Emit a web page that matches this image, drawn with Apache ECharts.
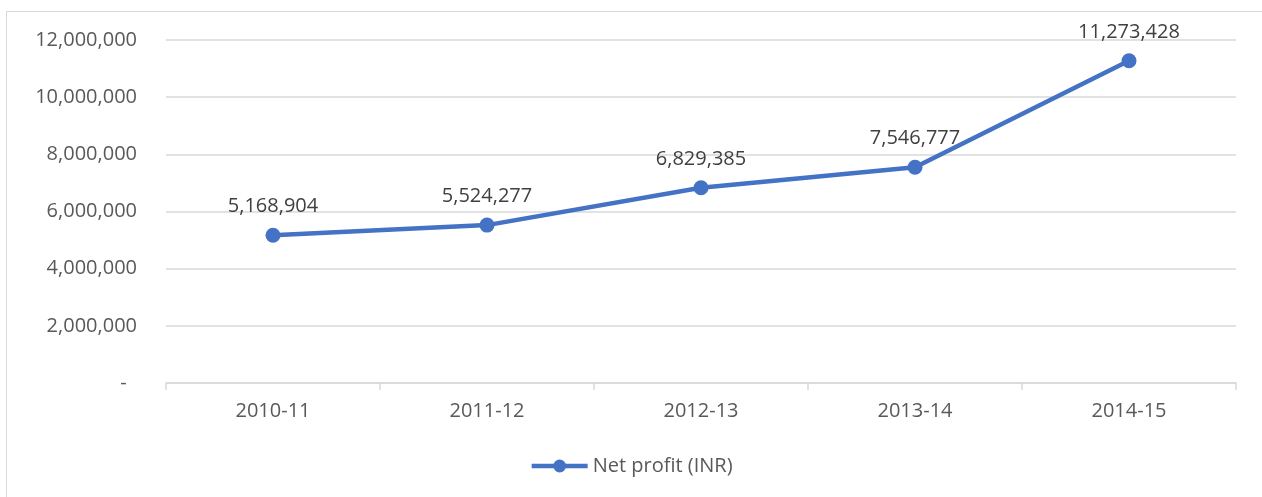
<!DOCTYPE html>
<html>
<head>
<meta charset="utf-8">
<script src="https://cdn.jsdelivr.net/npm/echarts@6/dist/echarts.min.js"></script>
<style>
	html, body { margin: 0; padding: 0; background: #fff; }
	#chart { width: 1262px; height: 497px; }
</style>
</head>
<body>
<div id="chart"></div>
<script>
// fiscal years and net profit values
var years = ['2010-11', '2011-12', '2012-13', '2013-14', '2014-15'];
var netProfit = [5168904, 5524277, 6829385, 7546777, 11273428];
var seriesName = 'Net profit (INR)';

var chartDom = document.getElementById('chart');
var myChart = echarts.init(chartDom);

function fmt(v) {
	if (v === 0) return '-  ';
	return v.toLocaleString('en-US');
}

var option = {
	animation: false,
	textStyle: { fontFamily: 'Open Sans' },
	graphic: [{
		type: 'rect',
		shape: { x: 6.5, y: 11.5, width: 1300, height: 600 },
		style: { fill: 'none', stroke: '#d9d9d9', lineWidth: 1 },
		silent: true
	}],
	grid: { left: 166, right: 26, top: 40, bottom: 114 },
	legend: {
		bottom: 16,
		left: 'center',
		itemWidth: 56,
		itemHeight: 16,
		itemGap: 5,
		lineStyle: { width: 4.5 },
		textStyle: { color: '#595959', fontSize: 20, fontFamily: 'Open Sans' },
		data: [seriesName]
	},
	xAxis: {
		type: 'category',
		data: years,
		boundaryGap: true,
		axisLine: { lineStyle: { color: '#d9d9d9', width: 1.5 } },
		axisTick: { show: true, length: 7, lineStyle: { color: '#d9d9d9', width: 1.5 } },
		axisLabel: { color: '#595959', fontSize: 20, margin: 18 },
		splitLine: { show: false }
	},
	yAxis: {
		type: 'value',
		min: 0,
		max: 12000000,
		interval: 2000000,
		axisLine: { show: false },
		axisTick: { show: false },
		axisLabel: { color: '#595959', fontSize: 20, margin: 29, formatter: fmt },
		splitLine: { lineStyle: { color: '#d9d9d9', width: 1.5 } }
	},
	series: [{
		name: seriesName,
		type: 'line',
		data: netProfit,
		symbol: 'circle',
		symbolSize: 15,
		lineStyle: { color: '#4472C4', width: 4.5 },
		itemStyle: { color: '#4472C4' },
		label: {
			show: true,
			position: 'top',
			distance: 11,
			color: '#404040',
			fontSize: 20,
			formatter: function (p) { return fmt(p.value); }
		}
	}]
};

myChart.setOption(option);
</script>
</body>
</html>
